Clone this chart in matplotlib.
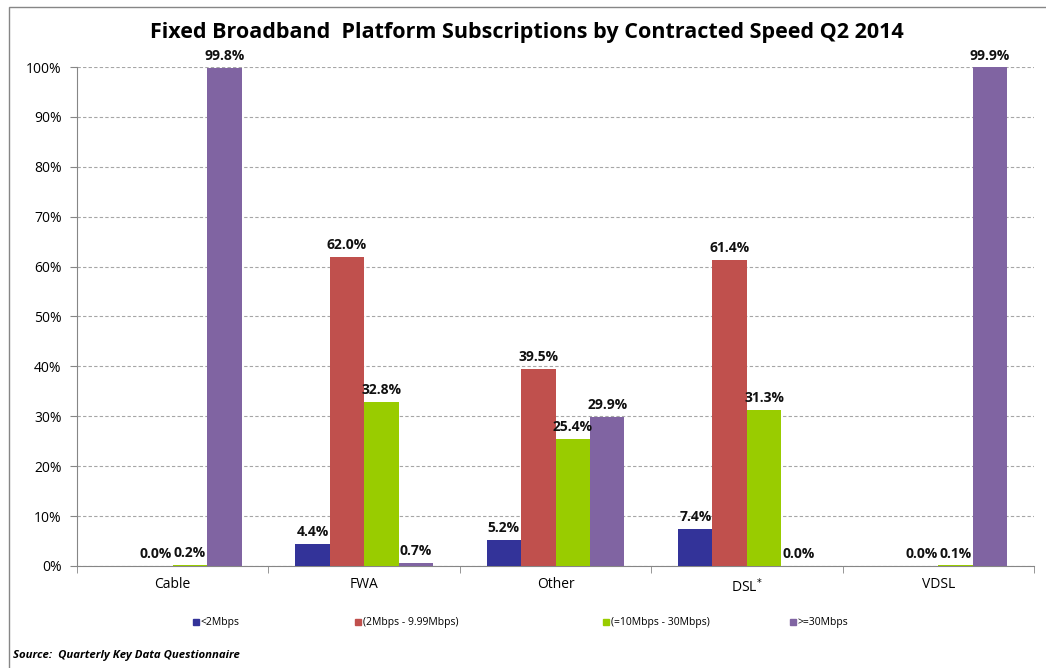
import matplotlib
matplotlib.use("Agg")
import matplotlib.pyplot as plt
import numpy as np
from matplotlib.patches import Rectangle

plt.rcParams["font.family"] = ["Open Sans", "DejaVu Sans"]

# ---- data ----
categories = ["Cable", "FWA", "Other", "DSL$^{*}$", "VDSL"]
series_names = ["<2Mbps", "(2Mbps - 9.99Mbps)", "(=10Mbps - 30Mbps)", ">=30Mbps"]
lt2 = [np.nan, 4.4, 5.2, 7.4, np.nan]
m2_10 = [0.0, 62.0, 39.5, 61.4, 0.0]
m10_30 = [0.2, 32.8, 25.4, 31.3, 0.1]
ge30 = [99.8, 0.7, 29.9, 0.0, 99.9]
series = [lt2, m2_10, m10_30, ge30]
colors = ["#333399", "#C0504D", "#99CC00", "#8064A2"]

fig = plt.figure(figsize=(10.46, 6.68), dpi=100)
ax = fig.add_axes([0.0736, 0.1527, 0.915, 0.747])

x = np.arange(len(categories))
w = 0.18
for i, (vals, c) in enumerate(zip(series, colors)):
    pos = x + (i - 1.5) * w
    h = np.nan_to_num(np.array(vals, dtype=float))
    ax.bar(pos, h, width=w, color=c, zorder=3)
    for p, v in zip(pos, vals):
        if np.isnan(v):
            continue
        ax.text(p, v + 1.0, f"{v:.1f}%", ha="center", va="bottom",
                fontsize=10, fontweight="bold", color="#111111", zorder=4)

ax.set_xlim(-0.5, len(categories) - 0.5)
ax.set_ylim(0, 100)
ax.set_yticks(np.arange(0, 101, 10))
ax.set_yticklabels([f"{t}%" for t in range(0, 101, 10)], fontsize=10)
ax.set_xticks(x)
ax.set_xticklabels(categories, fontsize=10)
ax.set_xticks(np.arange(-0.5, len(categories), 1), minor=True)
ax.tick_params(axis="x", which="major", length=0, pad=8)
ax.tick_params(axis="x", which="minor", length=5, color="#868686")
ax.tick_params(axis="y", length=5, color="#868686", pad=6)
ax.yaxis.grid(True, linestyle=(0, (3, 2)), color="#A6A6A6", linewidth=0.8, zorder=0)
for s in ["top", "right"]:
    ax.spines[s].set_visible(False)
for s in ["left", "bottom"]:
    ax.spines[s].set_color("#868686")

fig.text(0.504, 0.951, "Fixed Broadband  Platform Subscriptions by Contracted Speed Q2 2014",
         ha="center", va="center", fontsize=15.5, fontweight="bold")

# legend
leg_x = [0.1845, 0.3394, 0.5765, 0.7553]
for lx, name, c in zip(leg_x, series_names, colors):
    fig.patches.append(Rectangle((lx, 0.0645), 0.0055, 0.0085, transform=fig.transFigure,
                                 color=c, figure=fig))
    fig.text(lx + 0.0075, 0.0685, name, fontsize=7.5, va="center", ha="left")

fig.text(0.012, 0.010, "Source:  Quarterly Key Data Questionnaire", fontsize=8.2,
         fontweight="bold", style="italic", ha="left", va="bottom")

# chart border (top and left edges visible)
fig.patches.append(Rectangle((0.0086, -0.02), 1.05, 1.0095, transform=fig.transFigure,
                             fill=False, edgecolor="#868686", linewidth=1.0, figure=fig))

fig.savefig("out.png", dpi=100)
